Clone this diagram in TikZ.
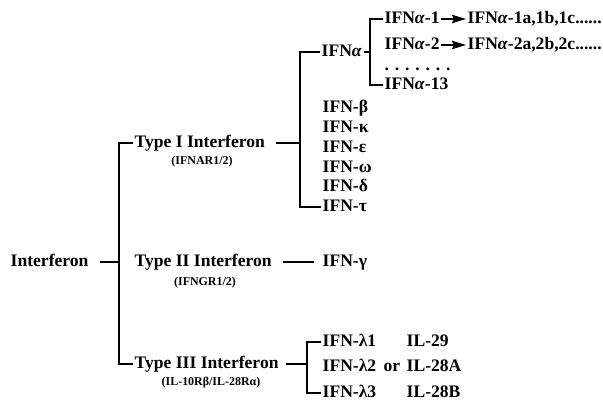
\documentclass[tikz,border=0pt]{standalone}
\usepackage{fontspec}
\setmainfont{Liberation Serif}
\usetikzlibrary{arrows.meta,positioning}

\begin{document}
\begin{tikzpicture}[x=0.025cm,y=-0.025cm]
	\tikzset{lbl/.style={anchor=west, inner sep=1pt, text height=8pt, text depth=2pt, font=\bfseries\fontsize{12.5}{14}\selectfont}};
	\tikzset{sub/.style={inner sep=0pt, font=\bfseries\fontsize{8.5}{10}\selectfont}};
	\tikzset{line/.style={line width=1.3pt}};
	\useasboundingbox (0,0) rectangle (603,405);
	% Place nodes
	\node [lbl] (root) at (9,262) {Interferon};
	\node [lbl] (t1) at (133,143) {Type I Interferon};
	\node [sub] (s1) at (202,162) {(IFNAR1/2)};
	\node [lbl] (t2) at (133,262) {Type II Interferon};
	\node [sub] (s2) at (205,283) {(IFNGR1/2)};
	\node [lbl] (t3) at (133,364) {Type III Interferon};
	\node [sub] (s3) at (211,383) {(IL-10Rβ/IL-28Rα)};

	\node [lbl] (alpha) at (320,52) {IFN\textit{α}};
	\node [lbl] (a1) at (383,19) {IFN\textit{α}-1};
	\node [lbl] (a1x) at (466,19) {IFN\textit{α}-1a,1b,1c......};
	\node [lbl] (a2) at (383,45) {IFN\textit{α}-2};
	\node [lbl] (a2x) at (466,45) {IFN\textit{α}-2a,2b,2c......};
	\node [lbl] (dots) at (383,66) {. . . . . . .};
	\node [lbl] (a13) at (383,85) {IFN\textit{α}-13};

	\node [lbl] (beta) at (321,108) {IFN-β};
	\node [lbl] (kappa) at (321,128) {IFN-κ};
	\node [lbl] (eps) at (321,148) {IFN-ε};
	\node [lbl] (omega) at (321,168) {IFN-ω};
	\node [lbl] (delta) at (321,187) {IFN-δ};
	\node [lbl] (tau) at (321,207) {IFN-τ};

	\node [lbl] (gamma) at (321,262) {IFN-γ};

	\node [lbl] (l1) at (321,342) {IFN-λ1};
	\node [lbl] (l2) at (321,367) {IFN-λ2};
	\node [lbl] (l3) at (321,393) {IFN-λ3};
	\node [lbl] (or) at (382,367) {or};
	\node [lbl] (il1) at (405,342) {IL-29};
	\node [lbl] (il2) at (405,367) {IL-28A};
	\node [lbl] (il3) at (405,393) {IL-28B};

	\coordinate (trunk) at (119,262);
	\coordinate (b1) at (300,143);
	\coordinate (b2) at (370,52);
	\coordinate (b3) at (307,365);
	%Place draw
	\draw [line, shorten <=7pt] (root) -- (trunk);
	\draw [line] (t1.west) -| (trunk) |- (t3.west);
	\draw [line, shorten <=7pt] (t1) -- (b1);
	\draw [line] (alpha.west) -| (b1) |- (tau.west);
	\draw [line] (alpha) -- (b2);
	\draw [line] (a1.west) -| (b2) |- (a13.west);
	\draw [line, -{Stealth[length=10pt,width=6pt,inset=1.5pt]}] (a1) -- (a1x);
	\draw [line, -{Stealth[length=10pt,width=6pt,inset=1.5pt]}] (a2) -- (a2x);
	\draw [line, shorten <=7pt, shorten >=5pt] (t2) -- (gamma);
	\draw [line, shorten <=4pt] (t3) -- (t3 -| b3);
	\draw [line] (l1.west) -| (b3) |- (l3.west);
\end{tikzpicture}
\end{document}
